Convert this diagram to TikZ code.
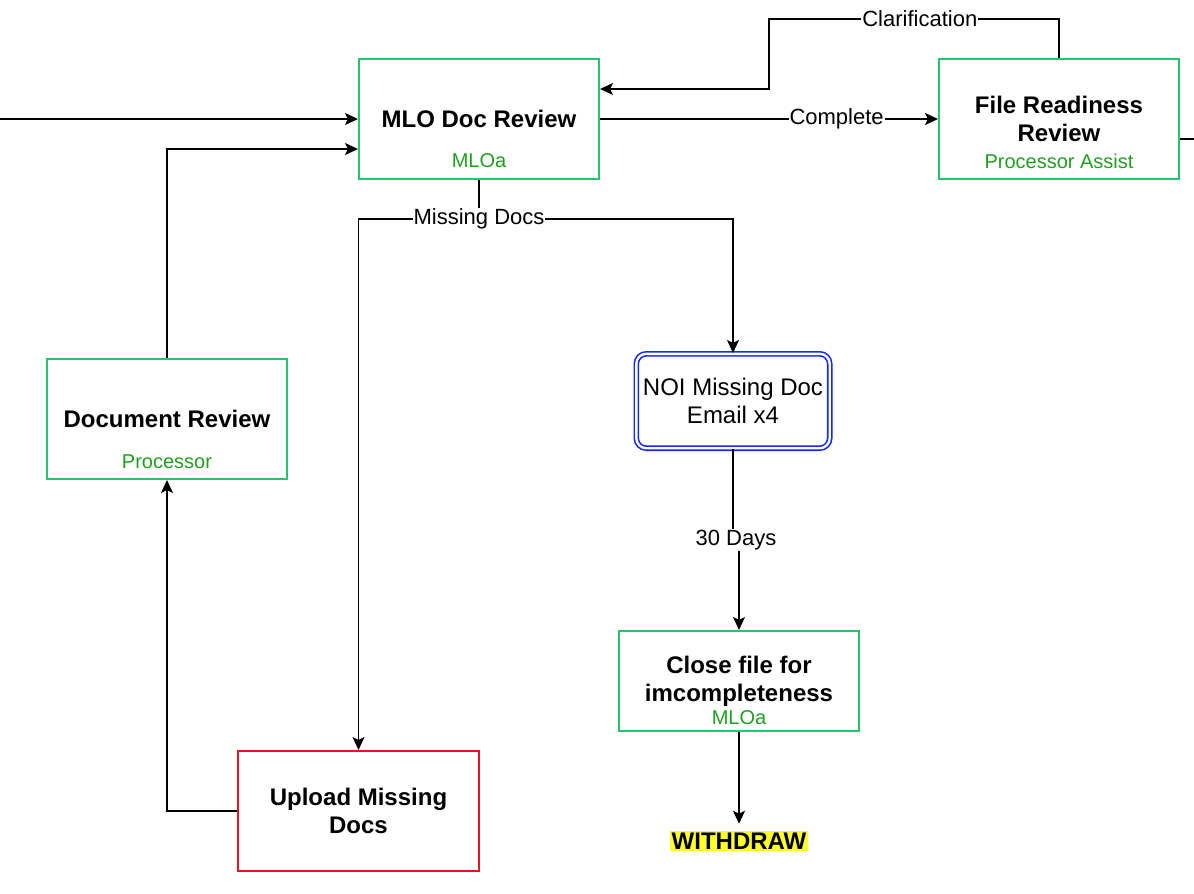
\documentclass[tikz,border=0pt]{standalone}
\usepackage{fontspec}
\setmainfont{Liberation Sans}
\usepackage{tikz}
\usetikzlibrary{positioning,calc,arrows.meta}
\definecolor{boxgreen}{RGB}{39,196,110}
\definecolor{rolegreen}{RGB}{30,160,30}
\definecolor{noiblue}{RGB}{20,40,240}
\definecolor{uploadred}{RGB}{230,20,35}
\definecolor{marker}{RGB}{255,255,40}
\tikzset{block/.style={draw=boxgreen,line width=1pt,minimum width=120pt,minimum height=60pt,align=center,inner sep=0pt,font=\bfseries\fontsize{12}{14}\selectfont},
         role/.style={text=rolegreen,inner sep=0pt,font=\fontsize{10}{11}\selectfont},
         lbl/.style={fill=white,inner sep=0.5pt,font=\fontsize{11}{12}\selectfont},
         line/.style={line width=0.9pt}
}
\tikzstyle{arrow} = [line width=0.9pt,-{Stealth[length=6.5pt,width=6pt,inset=1.5pt]}]
\begin{document}
\begin{tikzpicture}[x=0.5pt,y=-0.5pt]
\useasboundingbox (0,0) rectangle (1194,894);

\node[block] (mlo) at (479,119) {MLO Doc Review};
\node[role] (mlorole) at ([yshift=9.5pt]mlo.south) {MLOa};
\node[block] (frr) at (1059,119) {File Readiness\\Review};
\node[role] (frrrole) at ([yshift=9.5pt]frr.south) {Processor Assist};
\node[block] (docrev) at (167,419) {Document Review};
\node[role] (docrevrole) at ([yshift=9pt]docrev.south) {Processor};
\node[draw=noiblue,line width=0.8pt,double=white,double distance=1.2pt,rounded corners=5pt,minimum width=96.7pt,minimum height=47.2pt,align=center,inner sep=0pt,font=\fontsize{12}{14}\selectfont] (noi) at (733,401) {NOI Missing Doc\\Email x4};
\node[block,minimum height=50pt] (close) at (739,681) {Close file for\\imcompleteness};
\node[role] (closerole) at ([yshift=7pt]close.south) {MLOa};
\node[block,draw=uploadred,minimum width=120.5pt] (upload) at (358.5,811) {Upload Missing\\Docs};
\node[fill=marker,inner sep=0.8pt,font=\bfseries\fontsize{12}{13}\selectfont] (withdraw) at (739,841) {WITHDRAW};

\coordinate (in) at (0,119);
\coordinate (out) at (1194,139);
\coordinate (clar) at (769,19);
\coordinate (split) at (479,219);
\coordinate (days) at (736,540);

\draw[arrow] (in) -- (mlo);
\draw[arrow] (docrev.north) |- ([yshift=-15pt]mlo.west);
\draw[arrow] (mlo) -- node[lbl,pos=0.7] (complete) {Complete} (frr);
\draw[arrow] (frr.north) |- node[lbl,pos=0.74] (clarification) {Clarification} (clar) |- ([yshift=15pt]mlo.east);
\draw[line] ([yshift=-10pt]frr.east) -- (out);
\draw[arrow] (mlo.south) -- (split) -| (upload.north);
\draw[arrow] (split) -| (noi.north);
\node[lbl] (missing) at (split) {Missing Docs};
\draw[arrow] (noi.south) |- (days) -| (close.north);
\node[lbl] (thirty) at (days) {30 Days};
\draw[arrow,shorten >=3.5pt] (close.south) -- (withdraw.north);
\draw[arrow] (upload.west) -| (docrev.south);

\end{tikzpicture}
\end{document}
